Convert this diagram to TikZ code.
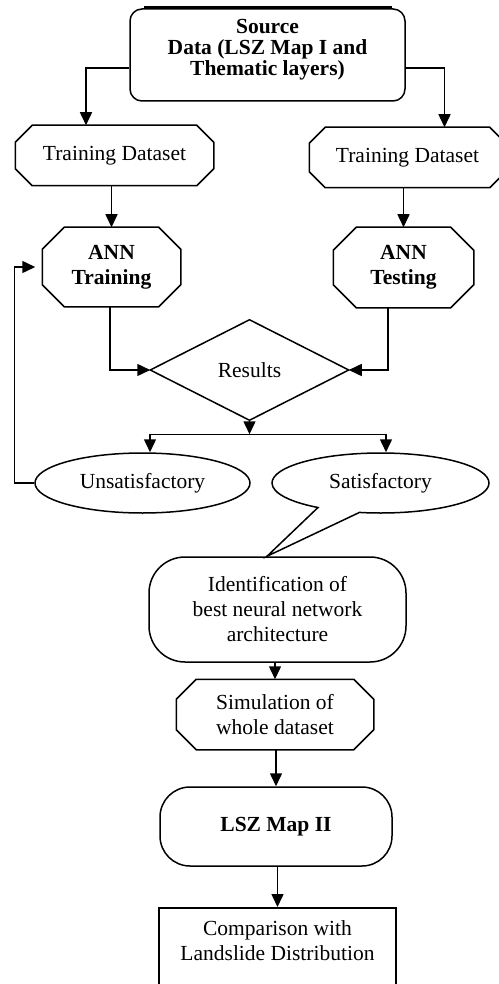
\documentclass[tikz,border=0pt]{standalone}
\usepackage{fontspec}
\setmainfont{Liberation Serif}
\usetikzlibrary{shapes.geometric,shapes.callouts,arrows.meta}

% octagon with cut corners drawn round a (borderless) rectangular node
\newcommand\octo[2]{\draw ([xshift=#2]#1.north west) -- ([xshift=-#2]#1.north east)
  -- ([yshift=-#2]#1.north east) -- ([yshift=#2]#1.south east)
  -- ([xshift=-#2]#1.south east) -- ([xshift=#2]#1.south west)
  -- ([yshift=#2]#1.south west) -- ([yshift=-#2]#1.north west) -- cycle;}

\begin{document}
\begin{tikzpicture}[x=1pt, y=-1pt, line width=1.5pt,
  every node/.style={inner sep=0pt, align=center, font=\fontsize{21.5}{25}\selectfont},
  dims/.style 2 args={minimum width=#1pt, minimum height=#2pt},
  heavy/.style={font=\fontsize{21.5}{25}\selectfont\bfseries},
  link/.style={-{Triangle[length=13pt,width=12pt]}},
]
\useasboundingbox (0,0) rectangle (498,984);

% source box
\node[draw, rounded corners=12pt, dims={275}{92}] (src) at (267.5,55) {};
\node[font=\fontsize{21.5}{21}\selectfont\bfseries] (srctext) at ([yshift=5pt]src.center)
  {Source\\Data (LSZ Map I and\\Thematic layers)};
\draw[line width=2.8pt] ([xshift=-124pt,yshift=0.4pt]src.north) -- ([xshift=124pt,yshift=0.4pt]src.north);

% datasets
\node[dims={197}{59}] (td1) at (114.5,155.5) {Training Dataset};
\octo{td1}{17pt}
\node[dims={195}{59}] (td2) at (407.5,157.5) {Training Dataset};
\octo{td2}{16pt}

% network stages
\node[heavy, dims={137}{78}] (annT) at (111.5,267) {ANN\\Training};
\octo{annT}{22pt}
\node[heavy, dims={139}{79}] (annS) at (403.5,267.5) {ANN\\Testing};
\octo{annS}{23pt}

% decision
\node[dims={197}{99}] (res) at (249.5,370) {Results};
\draw (res.north) -- (res.east) -- (res.south) -- (res.west) -- cycle;

% outcomes
\node[draw, ellipse, dims={215}{60}] (uns) at (142.5,483) {Unsatisfactory};
\node[draw, rounded corners=36pt, dims={257}{105}] (ident) at (277.5,609.5)
  {Identification of\\best neural network\\architecture};
\node[draw, ellipse callout, dims={217}{60},
  callout absolute pointer={([xshift=-10.5pt]ident.north)},
  callout pointer arc=24] (sat) at (380.5,483) {Satisfactory};

% final stages
\node[dims={196}{69}] (sim) at (275,714.5) {Simulation of\\whole dataset};
\octo{sim}{20pt}
\node[heavy, draw, rounded corners=30pt, dims={232}{79}] (lsz) at (276,826.5) {LSZ Map II};
\node[draw, dims={237}{100}, anchor=north] (cmp) at (277.5,907) {};
\node[anchor=north] (cmptext) at ([yshift=-13pt]cmp.north)
  {Comparison with\\Landslide Distribution};

% connectors
\draw[link] ([yshift=-13pt]src.west) -| ([xshift=-28.5pt]td1.north);
\draw[link] ([yshift=-13pt]src.east) -| ([xshift=37pt]td2.north);
\draw[link] (annT.north |- td1.south) -- (annT.north);
\draw[link] (annS.north |- td2.south) -- (annS.north);
\draw[link] ([xshift=-1.5pt]annT.south) |- (res.west);
\draw[link] ([xshift=-15.5pt]annS.south) |- (res.east);
\coordinate (fork) at ([yshift=-14pt]res.south);
\draw[link] (res.south) -- (fork);
\draw[link] (fork) -| ([xshift=7.5pt]uns.north);
\draw[link] (fork) -| ([xshift=5.5pt]sat.north);
\draw[link, shorten >=7pt] (uns.west) -- ++(-20,0) |- (annT.west);
\draw[link] (sim.north |- ident.south) -- (sim.north);
\draw[link] (lsz.north |- sim.south) -- (lsz.north);
\draw[link] (cmp.north |- lsz.south) -- (cmp.north);
\end{tikzpicture}
\end{document}
